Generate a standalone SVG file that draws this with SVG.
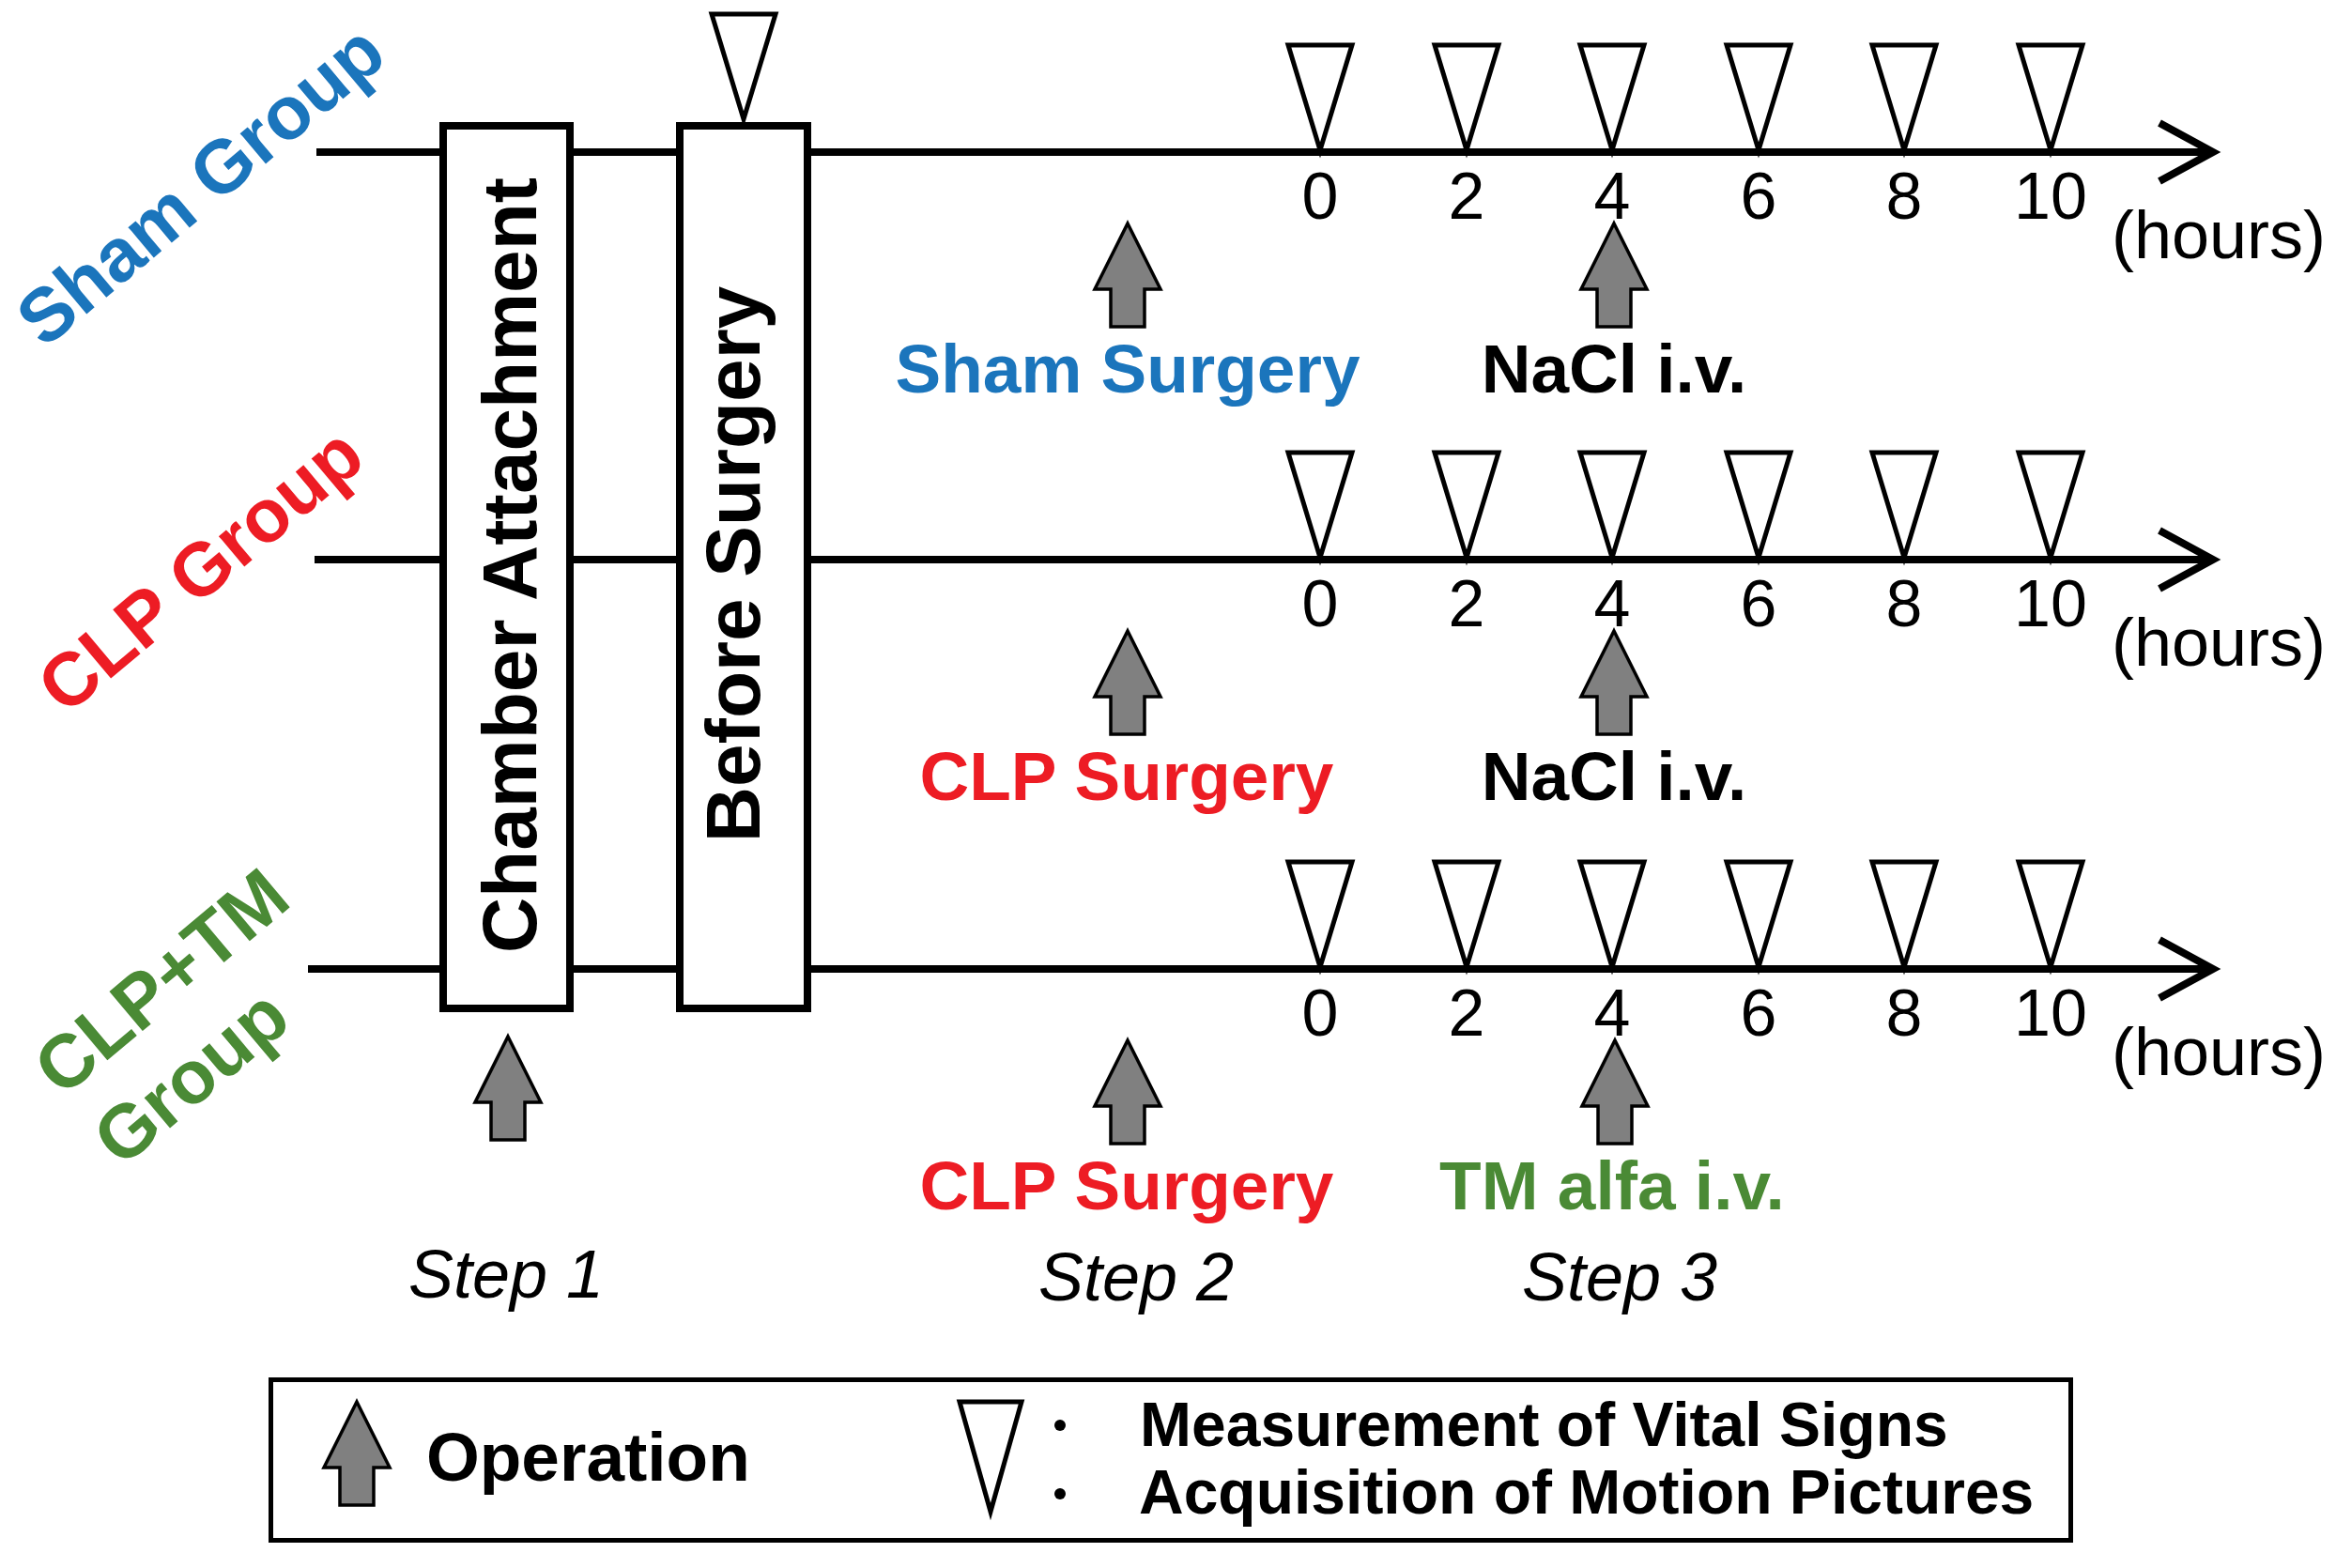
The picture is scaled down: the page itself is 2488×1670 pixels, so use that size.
<svg xmlns="http://www.w3.org/2000/svg" width="2488" height="1670" viewBox="0 0 2488 1670">
<style>
text{font-family:"Liberation Sans",Arial,sans-serif}
.box{fill:#fff;stroke:#000;stroke-width:8}
.axis{stroke:#000;stroke-width:8;fill:none}
.head{stroke:#000;stroke-width:8;fill:none;stroke-linecap:butt;stroke-linejoin:miter}
.tri{fill:#fff;stroke:#000;stroke-width:5;stroke-linejoin:miter}
.op{fill:#808080;stroke:#000;stroke-width:3.5;stroke-linejoin:miter}
.num{font-size:70px;text-anchor:middle}
.hr{font-size:72px}
.lbl{font-size:73px;font-weight:bold;text-anchor:middle}
.step{font-size:72px;font-style:italic;text-anchor:middle}
.grp{font-size:80px;font-weight:bold}
.vt{font-size:82px;font-weight:bold;text-anchor:middle}
.leg{font-size:66px;font-weight:bold}
.blue{fill:#1B75BC}.red{fill:#ED1C24}.green{fill:#4A8A35}
</style>
<defs>
<path id="opA" class="op" d="M0,0 L35,70 L18,70 L18,110 L-18,110 L-18,70 L-35,70 Z"/>
<path id="triA" class="tri" d="M-34,0 L34,0 L0,112 Z"/>
</defs>

<g id="connectors">
<line class="axis" x1="337" y1="162" x2="2352" y2="162"/>
<polyline class="head" points="2300,131 2357,162 2300,193"/>
<line class="axis" x1="335" y1="596" x2="2352" y2="596"/>
<polyline class="head" points="2300,565 2357,596 2300,627"/>
<line class="axis" x1="328" y1="1032" x2="2352" y2="1032"/>
<polyline class="head" points="2300,1001 2357,1032 2300,1063"/>
</g>

<g id="group-labels">
<text class="grp blue" transform="translate(231,218) rotate(-40)" text-anchor="middle">Sham Group</text>
<text class="grp red" transform="translate(231,628) rotate(-40)" text-anchor="middle">CLP Group</text>
<text class="grp green" transform="translate(66,1170) rotate(-40)"><tspan x="0" y="0">CLP+TM</tspan><tspan x="0" y="98">Group</tspan></text>
</g>

<g id="chamber">
<rect class="box" x="472" y="134" width="135" height="940"/>
<text class="vt" transform="translate(571,602) rotate(-90)">Chamber Attachment</text>
</g>
<g id="before">
<rect class="box" x="724" y="134" width="136" height="940"/>
<text class="vt" transform="translate(809,601) rotate(-90)">Before Surgery</text>
<use href="#triA" x="792" y="15"/>
</g>

<g id="sham-row">
<use href="#triA" x="1406" y="48"/><use href="#triA" x="1562" y="48"/><use href="#triA" x="1717" y="48"/>
<use href="#triA" x="1873" y="48"/><use href="#triA" x="2028" y="48"/><use href="#triA" x="2184" y="48"/>
<text class="num" y="233"><tspan x="1406">0</tspan><tspan x="1562">2</tspan><tspan x="1717">4</tspan><tspan x="1873">6</tspan><tspan x="2028">8</tspan><tspan x="2184">10</tspan></text>
<text class="hr" x="2249" y="275">(hours)</text>
<use href="#opA" x="1201" y="238"/><use href="#opA" x="1719" y="238"/>
<text class="lbl blue" x="1201" y="418">Sham Surgery</text>
<text class="lbl" x="1719" y="418">NaCl i.v.</text>
</g>

<g id="clp-row">
<use href="#triA" x="1406" y="482"/><use href="#triA" x="1562" y="482"/><use href="#triA" x="1717" y="482"/>
<use href="#triA" x="1873" y="482"/><use href="#triA" x="2028" y="482"/><use href="#triA" x="2184" y="482"/>
<text class="num" y="667"><tspan x="1406">0</tspan><tspan x="1562">2</tspan><tspan x="1717">4</tspan><tspan x="1873">6</tspan><tspan x="2028">8</tspan><tspan x="2184">10</tspan></text>
<text class="hr" x="2249" y="709">(hours)</text>
<use href="#opA" x="1201" y="672"/><use href="#opA" x="1719" y="672"/>
<text class="lbl red" x="1200" y="852">CLP Surgery</text>
<text class="lbl" x="1719" y="852">NaCl i.v.</text>
</g>

<g id="clptm-row">
<use href="#triA" x="1406" y="918"/><use href="#triA" x="1562" y="918"/><use href="#triA" x="1717" y="918"/>
<use href="#triA" x="1873" y="918"/><use href="#triA" x="2028" y="918"/><use href="#triA" x="2184" y="918"/>
<text class="num" y="1103"><tspan x="1406">0</tspan><tspan x="1562">2</tspan><tspan x="1717">4</tspan><tspan x="1873">6</tspan><tspan x="2028">8</tspan><tspan x="2184">10</tspan></text>
<text class="hr" x="2249" y="1145">(hours)</text>
<use href="#opA" x="541" y="1104"/><use href="#opA" x="1201" y="1108"/><use href="#opA" x="1720" y="1108"/>
<text class="lbl red" x="1200" y="1288">CLP Surgery</text>
<text class="lbl green" x="1717" y="1288">TM alfa i.v.</text>
</g>

<g id="steps">
<text class="step" x="539" y="1382">Step 1</text>
<text class="step" x="1210" y="1385">Step 2</text>
<text class="step" x="1725" y="1385">Step 3</text>
</g>

<g id="legend">
<rect x="288.5" y="1469.5" width="1917" height="171" fill="#fff" stroke="#000" stroke-width="5"/>
<use href="#opA" x="380" y="1493"/>
<text class="lbl" x="454" y="1577" style="text-anchor:start">Operation</text>
<polygon class="tri" points="1022,1493 1088,1493 1055,1610"/>
<circle cx="1129" cy="1518" r="6" fill="#000"/>
<circle cx="1129" cy="1591" r="6" fill="#000"/>
<text class="leg" x="1214" y="1540">Measurement of Vital Signs</text>
<text class="leg" x="1213" y="1612">Acquisition of Motion Pictures</text>
</g>
</svg>
